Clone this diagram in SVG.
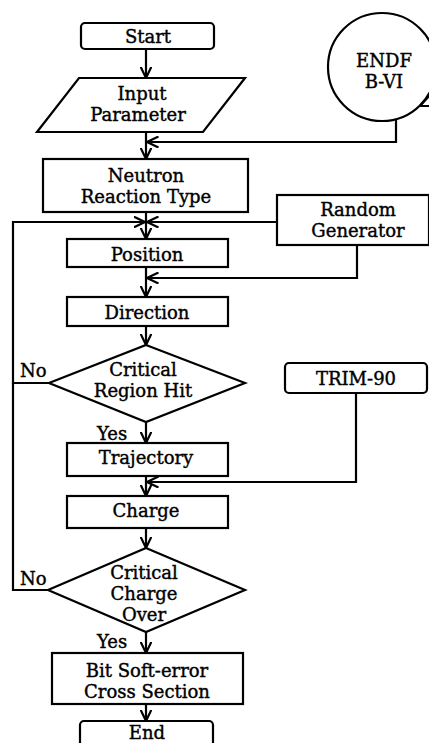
<svg xmlns="http://www.w3.org/2000/svg" width="429" height="743" viewBox="0 0 429 743" font-family="DejaVu Serif, Liberation Serif, serif">
<defs>
<style>
.n{fill:#fff;stroke:#000;stroke-width:2.2}
.c{fill:none;stroke:#000;stroke-width:2.2}
text{font-family:"DejaVu Serif","Liberation Serif",serif;font-size:18px;font-weight:normal;fill:#000;stroke:#000;stroke-width:0.4;text-anchor:middle}
.l{text-anchor:start}
</style>
<marker id="a" viewBox="0 0 12 12" refX="11.5" refY="6" markerWidth="12" markerHeight="12" markerUnits="userSpaceOnUse" orient="auto">
<path d="M0,0.5 L11.5,6 L0,11.5" fill="none" stroke="#000" stroke-width="2.2"/>
</marker>
</defs>
<rect width="429" height="743" fill="#fff"/>
<g id="connectors" class="c" marker-end="url(#a)">
<path d="M146,49 L146,78"/>
<path d="M146,132 L146,159"/>
<path d="M396,120 L396,142 L147,142"/>
<path d="M146,212 L146,239"/>
<path d="M277,222 L147,222"/>
<path d="M49,383 L13,383 L13,222 L145,222"/>
<path d="M48,590 L13,590 L13,383" marker-end="none"/>
<path d="M357,245 L357,278 L147,278"/>
<path d="M146,267 L146,297"/>
<path d="M146,326 L146,345"/>
<path d="M146,422 L146,443"/>
<path d="M356,393 L356,482 L147,482"/>
<path d="M146,476 L146,496"/>
<path d="M146,528 L146,548"/>
<path d="M146,632 L146,653"/>
<path d="M146,704 L146,721"/>
</g>
<g id="start"><rect class="n" x="81" y="23" width="133" height="26" rx="4"/><text x="148" y="43">Start</text></g>
<g id="input"><path class="n" d="M79,78 L245,78 L203,132 L37,132 Z"/><text x="142" y="100">Input</text><text x="138" y="121">Parameter</text></g>
<g id="endf"><circle class="n" cx="382" cy="67" r="54"/><path class="c" d="M420,106 L429,96 M420,106 L429,106"/><text x="384" y="67">ENDF</text><text x="384" y="88">B-VI</text></g>
<g id="neutron"><rect class="n" x="43" y="159" width="205" height="53"/><text x="146" y="182">Neutron</text><text x="146" y="203">Reaction Type</text></g>
<g id="random"><rect class="n" x="277" y="195" width="152" height="50"/><text x="358" y="216">Random</text><text x="358" y="237">Generator</text></g>
<g id="position"><rect class="n" x="67" y="239" width="161" height="28"/><text x="147" y="261">Position</text></g>
<g id="direction"><rect class="n" x="67" y="297" width="161" height="29"/><text x="147" y="319">Direction</text></g>
<g id="critical1"><path class="n" d="M146,345 L245,383 L146,422 L49,383 Z"/><text x="143" y="376">Critical</text><text x="143" y="397">Region Hit</text></g>
<g id="trim"><rect class="n" x="285" y="363" width="142" height="30" rx="4"/><text x="356" y="385">TRIM-90</text></g>
<g id="trajectory"><rect class="n" x="67" y="443" width="161" height="33"/><text x="146" y="464">Trajectory</text></g>
<g id="charge"><rect class="n" x="67" y="496" width="161" height="32"/><text x="146" y="517">Charge</text></g>
<g id="critical2"><path class="n" d="M146,548 L245,590 L146,632 L48,590 Z"/><text x="144" y="579">Critical</text><text x="144" y="600">Charge</text><text x="144" y="621">Over</text></g>
<g id="labels"><text class="l" x="20" y="377">No</text><text class="l" x="97" y="440">Yes</text><text class="l" x="20" y="585">No</text><text class="l" x="97" y="648">Yes</text></g>
<g id="bit"><rect class="n" x="52" y="653" width="191" height="51"/><text x="147" y="677">Bit Soft-error</text><text x="147" y="698">Cross Section</text></g>
<g id="end"><rect class="n" x="80" y="721" width="133" height="26" rx="4"/><text x="147" y="739">End</text></g>
</svg>
